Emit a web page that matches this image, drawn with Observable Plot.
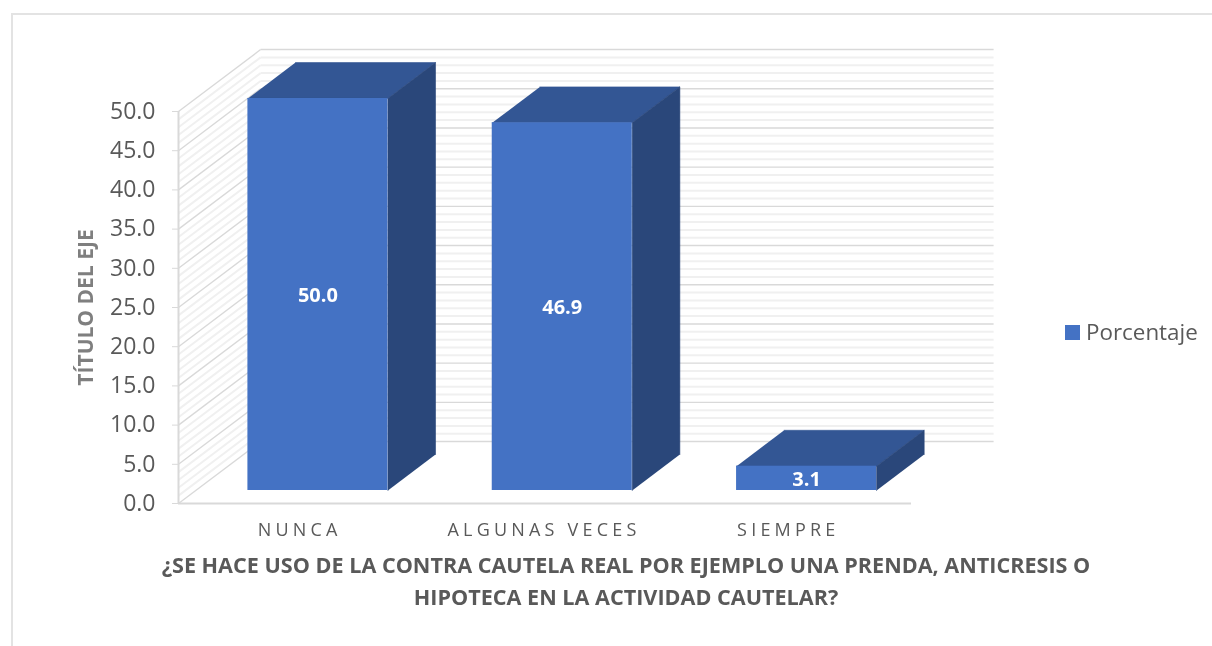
<!DOCTYPE html>
<html>
<head>
<meta charset="utf-8">
<script src="https://cdn.jsdelivr.net/npm/d3@7"></script>
<script src="https://cdn.jsdelivr.net/npm/@observablehq/plot@0.6"></script>
<style>
  html, body { margin: 0; padding: 0; background: #fff; }
  #page { position: relative; width: 1212px; height: 646px; overflow: hidden; font-family: "Open Sans", sans-serif; }
  #frame { position: absolute; left: 11px; top: 13px; width: 1300px; height: 800px; border: 2px solid #e3e3e3; }
  #chart { position: absolute; left: 0; top: 0; filter: blur(0.5px); }
  #chart svg { display: block; background: transparent !important; font-family: "Open Sans", sans-serif; }
  [aria-label="y-axis tick label"] { font-size: 23px; fill: #595959; }
  [aria-label="x-axis tick label"] { font-size: 18px; fill: #595959; letter-spacing: 4.2px; }
  [aria-label="y-axis label"] { font-size: 21px; font-weight: 700; fill: #7f7f7f; }
  #legend { position: absolute; left: 1065px; top: 318px; display: flex; align-items: center; color: #595959; font-size: 22.4px; line-height: 28px; filter: blur(0.5px); }
  #legend i { display: block; width: 15px; height: 15px; background: #4472C4; margin-right: 6px; }
</style>
</head>
<body>
<div id="page">
  <div id="frame"></div>
  <div id="chart"></div>
  <div id="legend"><i></i><span id="legend-text"></span></div>
</div>
<script>
const categories = ["NUNCA", "ALGUNAS VECES", "SIEMPRE"];
const values = [50.0, 46.9, 3.1];
const seriesName = "Porcentaje";
const yTicks = d3.range(0, 51, 5);
const yMinor = d3.range(0, 51, 1).filter(v => v % 5 !== 0);
const yAxisTitle = "TÍTULO DEL EJE";
const xAxisTitle = "¿SE HACE USO DE LA CONTRA CAUTELA REAL POR EJEMPLO UNA PRENDA, ANTICRESIS O\nHIPOTECA EN LA ACTIVIDAD CAUTELAR?";

const colors = {front: "#4472C4", top: "#335694", side: "#2A477A", major: "#d9d9d9", minor: "#f0f0f0"};

// Oblique projection, in scale units: depth d in [0, 1] runs from the front of the floor to the back wall.
const depthX = 0.336, depthY = 7.9;
const barWidth = 0.573, barD0 = 0.21, barD1 = 0.79;
const px = (x, d) => x + d * depthX;
const py = (v, d) => v + d * depthY;

const bars = categories.map((name, i) => ({
  name, value: values[i],
  x1: i + 0.5 - barWidth / 2,
  x2: i + 0.5 + barWidth / 2
}));

function poly(id, pts) { return pts.map(([x, v, d]) => ({id, x: px(x, d), y: py(v, d)})); }
const topFaces = bars.flatMap((b, i) => poly(i, [[b.x1, b.value, barD0], [b.x2, b.value, barD0], [b.x2, b.value, barD1], [b.x1, b.value, barD1]]));
const sideFaces = bars.flatMap((b, i) => poly(i, [[b.x2, 0, barD0], [b.x2, b.value, barD0], [b.x2, b.value, barD1], [b.x2, 0, barD1]]));

const wall = (levels) => {
  const major = levels === yTicks;
  const style = {stroke: major ? colors.major : colors.minor, strokeWidth: major ? 1.4 : 2};
  return [
    Plot.link(levels, {x1: 0, y1: d => d, x2: px(0, 1), y2: d => py(d, 1), ...style}),
    Plot.link(levels, {x1: px(0, 1), y1: d => py(d, 1), x2: px(3, 1), y2: d => py(d, 1), ...style})
  ];
};

const plot = Plot.plot({
  width: 1212, height: 646,
  marginLeft: 178, marginRight: 301, marginTop: 111, marginBottom: 143,
  style: {background: "transparent"},
  x: {domain: [0, 3]},
  y: {domain: [0, 50]},
  marks: [
    ...wall(yMinor),
    ...wall(yTicks),
    Plot.ruleX([0], {stroke: colors.major, strokeWidth: 2}),
    Plot.ruleY([0], {stroke: colors.major, strokeWidth: 2}),
    Plot.axisY({
      ticks: yTicks, tickFormat: d3.format(".1f"), tickSize: 6, tickPadding: 17,
      stroke: colors.major,
      label: yAxisTitle, labelAnchor: "center", labelArrow: "none", labelOffset: 100
    }),
    Plot.axisX({
      ticks: [0.5, 1.5, 2.5], tickFormat: t => categories[Math.floor(t)],
      tickSize: 0, tickPadding: 20, dx: -1, label: null
    }),
    Plot.line(topFaces, {x: "x", y: "y", z: "id", fill: colors.top, stroke: colors.top, strokeWidth: 0.6}),
    Plot.line(sideFaces, {x: "x", y: "y", z: "id", fill: colors.side, stroke: colors.side, strokeWidth: 0.6}),
    Plot.rect(bars, {x1: d => px(d.x1, barD0), x2: d => px(d.x2, barD0), y1: () => py(0, barD0), y2: d => py(d.value, barD0), fill: colors.front}),
    Plot.text(bars, {
      x: d => px((d.x1 + d.x2) / 2, barD0), y: d => py(d.value / 2, barD0),
      text: d => d.value.toFixed(1), fill: "#fff", fontWeight: 700, fontSize: 20, dy: 1
    }),
    Plot.text([xAxisTitle], {
      frameAnchor: "bottom", text: d => d, dx: 81, dy: 101, lineAnchor: "bottom", lineHeight: 1.44,
      fill: "#595959", fontWeight: 700, fontSize: 21.6
    })
  ]
});
document.getElementById("chart").append(plot);
document.getElementById("legend-text").textContent = seriesName;
</script>
</body>
</html>
